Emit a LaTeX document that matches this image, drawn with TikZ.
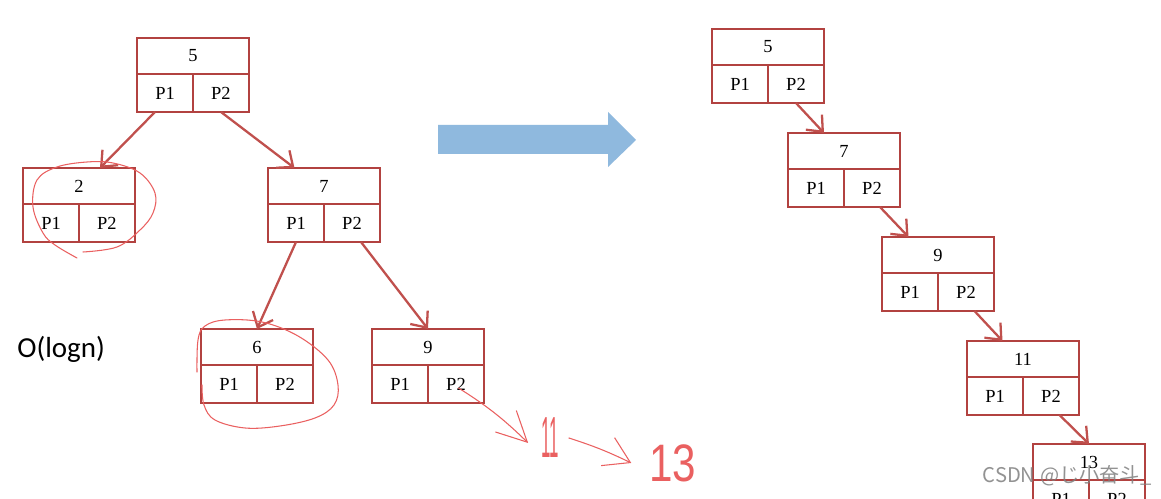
\documentclass[tikz,border=0pt]{standalone}
\usepackage{fontspec}
\setmainfont{Liberation Serif}
\newfontfamily\logfont{Carlito}
\newfontfamily\handfont{Liberation Sans}
\newfontfamily\cjkfont{Noto Sans CJK SC}
\usetikzlibrary{arrows.meta}
\definecolor{boxred}{RGB}{178,66,64}
\definecolor{linkred}{RGB}{192,80,77}
\definecolor{penred}{RGB}{234,96,96}
\definecolor{arrowblue}{RGB}{143,185,222}
\tikzstyle{keycell} = [rectangle, minimum width=2.24cm, minimum height=0.72cm, anchor=north west, draw=boxred, line width=0.9pt, fill=white, inner sep=0pt, outer sep=0pt, font=\fontsize{10.5}{12}\selectfont]
\tikzstyle{ptrcell} = [rectangle, minimum width=1.12cm, minimum height=0.76cm, draw=boxred, line width=0.9pt, fill=white, inner sep=0pt, outer sep=0pt, font=\fontsize{10.5}{12}\selectfont]
\tikzstyle{link} = [line width=1.3pt, draw=linkred, -{Straight Barb[length=2.6mm,width=4.4mm]}]
\tikzstyle{pen} = [draw=penred, line width=0.6pt, line cap=round, line join=round]
\tikzstyle{hand} = [text=penred, inner sep=0pt, font=\handfont\fontsize{30}{30}\selectfont]

\begin{document}
\begin{tikzpicture}[x=0.02cm, y=-0.02cm]
\clip (0,0) rectangle (1161,499);
\fill [white] (0,0) rectangle (1161,499);

% left tree
\node (l5) [keycell] at (137,38) {5};
\node (l5-p1) [ptrcell, anchor=north west] at (l5.south west) {P1};
\node (l5-p2) [ptrcell, anchor=north east] at (l5.south east) {P2};
\node (l2) [keycell] at (23,168) {2};
\node (l2-p1) [ptrcell, anchor=north west] at (l2.south west) {P1};
\node (l2-p2) [ptrcell, anchor=north east] at (l2.south east) {P2};
\node (l7) [keycell] at (268,168) {7};
\node (l7-p1) [ptrcell, anchor=north west] at (l7.south west) {P1};
\node (l7-p2) [ptrcell, anchor=north east] at (l7.south east) {P2};
\node (l6) [keycell] at (201,329) {6};
\node (l6-p1) [ptrcell, anchor=north west] at (l6.south west) {P1};
\node (l6-p2) [ptrcell, anchor=north east] at (l6.south east) {P2};
\node (l9) [keycell] at (372,329) {9};
\node (l9-p1) [ptrcell, anchor=north west] at (l9.south west) {P1};
\node (l9-p2) [ptrcell, anchor=north east] at (l9.south east) {P2};

\draw [link] ([xshift=-0.2cm]l5-p1.south) -- ([xshift=0.42cm]l2.north);
\draw [link] (l5-p2.south) -- ([xshift=-0.59cm]l7.north);
\draw [link] (l7-p1.south) -- (l6.north);
\draw [link] ([xshift=0.18cm]l7-p2.south) -- (l9.north);

\node (cost) [anchor=west, inner sep=0pt, font=\logfont\fontsize{16.5}{18}\selectfont] at (17,349) {O(logn)};

% right chain
\node (r5) [keycell] at (712,29) {5};
\node (r5-p1) [ptrcell, anchor=north west] at (r5.south west) {P1};
\node (r5-p2) [ptrcell, anchor=north east] at (r5.south east) {P2};
\node (r7) [keycell] at (788,133) {7};
\node (r7-p1) [ptrcell, anchor=north west] at (r7.south west) {P1};
\node (r7-p2) [ptrcell, anchor=north east] at (r7.south east) {P2};
\node (r9) [keycell] at (882,237) {9};
\node (r9-p1) [ptrcell, anchor=north west] at (r9.south west) {P1};
\node (r9-p2) [ptrcell, anchor=north east] at (r9.south east) {P2};
\node (r11) [keycell] at (967,341) {11};
\node (r11-p1) [ptrcell, anchor=north west] at (r11.south west) {P1};
\node (r11-p2) [ptrcell, anchor=north east] at (r11.south east) {P2};
\node (r13) [keycell] at (1033,444) {13};
\node (r13-p1) [ptrcell, anchor=north west] at (r13.south west) {P1};
\node (r13-p2) [ptrcell, anchor=north east] at (r13.south east) {P2};

\draw [link] (r5-p2.south) -- ([xshift=-0.4cm]r7.north);
\draw [link] ([xshift=0.16cm]r7-p2.south) -- ([xshift=-0.59cm]r9.north);
\draw [link] ([xshift=0.17cm]r9-p2.south) -- ([xshift=-0.41cm]r11.north);
\draw [link] ([xshift=0.17cm]r11-p2.south) -- (r13.north);

% big arrow
\fill [arrowblue] (438,125) -- (608,125) -- (608,112) -- (636,140) -- (608,167) -- (608,154) -- (438,154) -- cycle;

% pen notes
\draw [pen] plot [smooth, tension=0.6] coordinates {(77,258) (55,245) (43,233) (33,207) (37,180) (57,167) (87,162) (113,163) (140,173) (155,193) (153,213) (140,230) (117,247) (83,252)};
\draw [pen] plot [smooth, tension=0.6] coordinates {(197,372) (198,340) (205,326) (225,320) (262,322) (298,336) (328,360) (338,385) (334,405) (315,418) (280,426) (245,428) (215,420) (204,405) (202,385)};
\node (h11) [hand, xscale=0.32, yscale=1.1] at (550,438) {11};
\node (h13) [hand, xscale=0.8] at (673,463) {13};
\draw [pen, -{Straight Barb[length=0.6cm,width=0.6cm]}] ([xshift=0.05cm,yshift=-0.08cm]l9-p2.center) to [bend left=6] ([xshift=-0.26cm,yshift=-0.1cm]h11.west);
\draw [pen, -{Straight Barb[length=0.5cm,width=0.62cm]}] ([xshift=0.2cm]h11.east) to [bend left=4] ([xshift=-0.36cm]h13.west);

\node (mark) [text=gray, opacity=0.85, inner sep=0pt, font=\cjkfont\fontsize{11.5}{12}\selectfont] at (1067,476) {CSDN @じ小奋斗\_};
\end{tikzpicture}
\end{document}
